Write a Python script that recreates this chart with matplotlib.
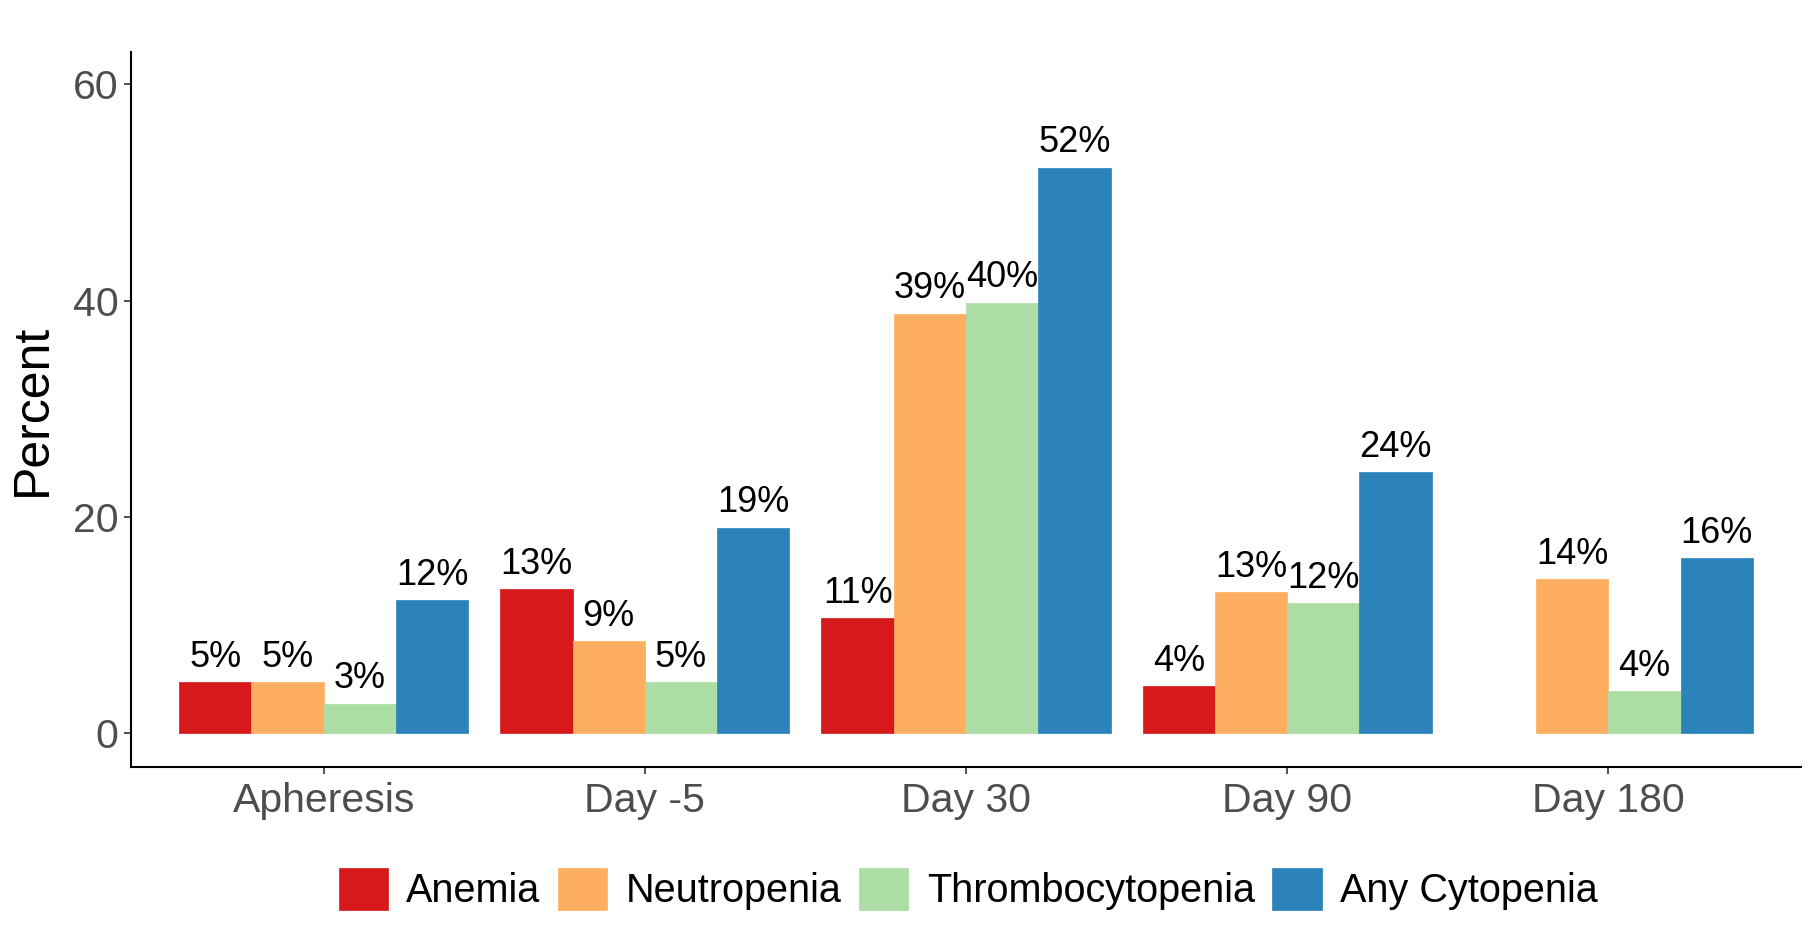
import matplotlib
matplotlib.use("Agg")
import matplotlib.pyplot as plt
import numpy as np

plt.rcParams['font.family'] = ['Liberation Sans', 'DejaVu Sans']

categories = ["Apheresis", "Day -5", "Day 30", "Day 90", "Day 180"]
series_names = ["Anemia", "Neutropenia", "Thrombocytopenia", "Any Cytopenia"]
anemia = [4.7, 13.3, 10.6, 4.3, None]
neutropenia = [4.7, 8.5, 38.8, 13.0, 14.2]
thrombocytopenia = [2.7, 4.7, 39.8, 12.0, 3.9]
any_cytopenia = [12.3, 19.0, 52.3, 24.1, 16.2]
labels = [
    ["5%", "13%", "11%", "4%", None],
    ["5%", "9%", "39%", "13%", "14%"],
    ["3%", "5%", "40%", "12%", "4%"],
    ["12%", "19%", "52%", "24%", "16%"],
]
colors = ["#D7191C", "#FDAE61", "#ABDDA4", "#2B83BA"]
yticks = [0, 20, 40, 60]

series = [anemia, neutropenia, thrombocytopenia, any_cytopenia]

fig = plt.figure(figsize=(18.2, 9.42), dpi=100)
ax = fig.add_axes([131/1820, 1-767/942, (1801-131)/1820, (767-52)/942])

x = np.arange(1, len(categories)+1)
w = 0.225
handles = []
for i, (vals, col) in enumerate(zip(series, colors)):
    offs = (i - 1.5) * w
    xs = [xi + offs for xi, v in zip(x, vals) if v is not None]
    vs = [v for v in vals if v is not None]
    labs = [l for l, v in zip(labels[i], vals) if v is not None]
    b = ax.bar(xs, vs, width=w, color=col, edgecolor=col, linewidth=0.5, label=series_names[i])
    handles.append(b)
    for xx, vv, ll in zip(xs, vs, labs):
        ax.annotate(ll, (xx, vv), xytext=(0, 11), textcoords='offset points',
                    ha='center', va='baseline', fontsize=26, color='black')

ax.set_xlim(0.4, 5.6)
ax.set_ylim(-3.15, 63)
ax.set_yticks(yticks)
ax.set_xticks(x)
ax.set_xticklabels(categories)
ax.tick_params(axis='both', labelsize=29.5, colors='#333333', labelcolor='#4d4d4d',
               length=5, width=1.2)
ax.tick_params(axis='x', pad=6)
ax.tick_params(axis='y', pad=4)
for s in ['top', 'right']:
    ax.spines[s].set_visible(False)
for s in ['left', 'bottom']:
    ax.spines[s].set_linewidth(1.5)
    ax.spines[s].set_color('black')
ax.set_ylabel("Percent", fontsize=36, color='black', labelpad=12)

fig.legend(handles=handles, labels=series_names, loc='center', bbox_to_anchor=(0.532, 1-889/942),
           ncol=4, frameon=False, fontsize=28.5, handlelength=1.24, handleheight=1.24,
           handletextpad=0.46, columnspacing=0.45, borderaxespad=0)

fig.savefig("out.png", dpi=100)
